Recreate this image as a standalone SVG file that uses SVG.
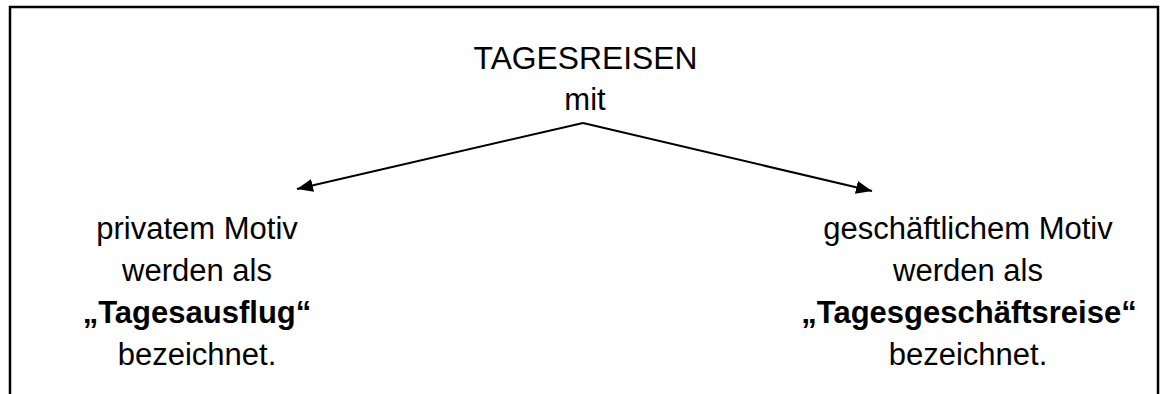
<svg xmlns="http://www.w3.org/2000/svg" width="1168" height="394" viewBox="0 0 1168 394">
<style>
text{font-family:"Liberation Sans",Arial,sans-serif;font-size:31px;fill:#000;text-anchor:middle}
.b{font-weight:bold}
.t{font-size:31.8px}
.c{stroke:#000;stroke-width:2;fill:none}
</style>
<defs>
<marker id="arr" viewBox="0 0 16 13" refX="16" refY="6.5" markerWidth="16" markerHeight="13" markerUnits="userSpaceOnUse" orient="auto">
<path d="M0,0 L16,6.5 L0,13 z" fill="#000"/>
</marker>
</defs>
<rect width="1168" height="394" fill="#fff"/>
<path d="M10,410 L10,7 L1158,7 L1158,410" fill="none" stroke="#000" stroke-width="2.5"/>
<g id="top">
<text x="585.5" y="69" class="t">TAGESREISEN</text>
<text x="585" y="110">mit</text>
</g>
<g id="connectors">
<path class="c" d="M583,123 L297,189" marker-end="url(#arr)"/>
<path class="c" d="M583,123 L872,191" marker-end="url(#arr)"/>
</g>
<g id="left">
<text x="197" y="239">privatem Motiv</text>
<text x="197" y="281">werden als</text>
<text x="197" y="323" class="b">„Tagesausflug“</text>
<text x="197" y="365">bezeichnet.</text>
</g>
<g id="right">
<text x="968" y="239">geschäftlichem Motiv</text>
<text x="968" y="281">werden als</text>
<text x="969" y="323" class="b">„Tagesgeschäftsreise“</text>
<text x="968" y="365">bezeichnet.</text>
</g>
</svg>
